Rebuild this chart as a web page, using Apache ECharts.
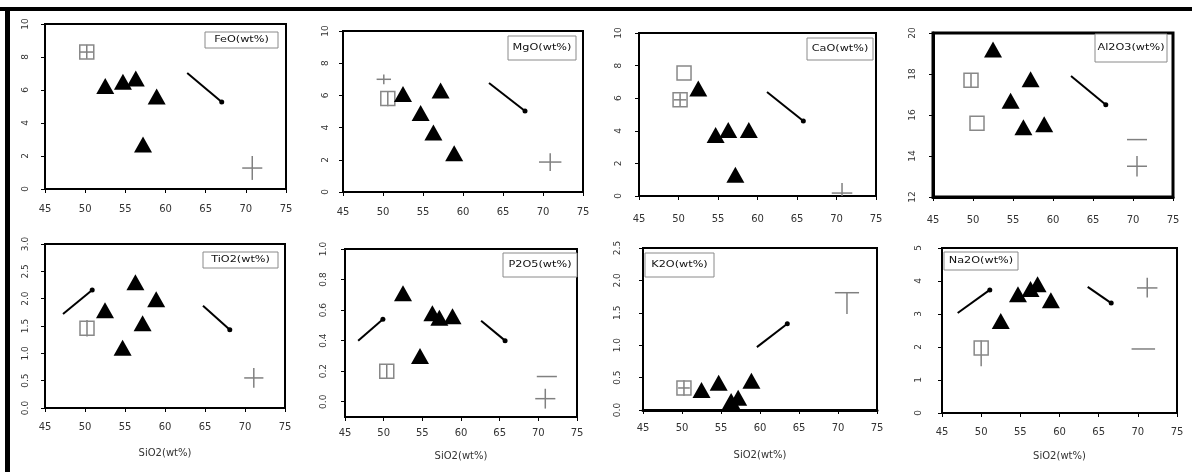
<!DOCTYPE html>
<html><head><meta charset="utf-8">
<script src="https://cdn.jsdelivr.net/npm/echarts@6/dist/echarts.min.js"></script>
<style>html,body{margin:0;padding:0;background:#fff}#c{width:1192px;height:472px}</style>
</head><body><div id="c"></div>
<script>
// ---- data ----
const SIO2 = [52.5, 54.7, 56.3, 57.2, 58.9];
const FEO = [6.24, 6.5, 6.7, 2.7, 5.6];
const MGO = [6.09, 4.9, 3.7, 6.3, 2.4];
const CAO = [6.6, 3.75, 4.05, 1.3, 4.05];
const AL2O3 = [19.2, 16.7, 15.4, 17.75, 15.55];
const TIO2 = [1.79, 1.1, 2.3, 1.55, 1.99];
const P2O5 = [0.71, 0.30, 0.58, 0.55, 0.56];
const K2O = [0.31, 0.42, 0.14, 0.19, 0.45];
const NA2O = [2.79, 3.6, 3.76, 3.9, 3.42];

// open squares (reference compositions) [SiO2, oxide]
const SQ_FEO = [[50.2, 8.3]];
const SQ_MGO = [[50.6, 5.8]];
const SQ_CAO = [[50.7, 7.55], [50.2, 5.9]];
const SQ_AL2O3 = [[49.75, 17.7], [50.5, 15.6]];
const SQ_TIO2 = [[50.25, 1.46]];
const SQ_P2O5 = [[50.4, 0.20]];
const SQ_K2O = [[50.25, 0.34]];
const SQ_NA2O = [[50.0, 1.97]];

// error bars [x, y, xLow, xHigh, yLow, yHigh]
const EB_FEO = [[50.2, 8.3, 49.3, 51.0, 7.9, 8.75], [70.8, 1.27, 69.55, 72.05, 0.55, 2.0]];
const EB_MGO = [[50.1, 7.0, 49.2, 51.0, 6.7, 7.3], [50.6, 5.8, 50.6, 50.6, 5.33, 6.27], [70.9, 1.86, 69.5, 72.3, 1.3, 2.4]];
const EB_CAO = [[50.2, 5.9, 49.4, 51.0, 5.5, 6.3], [70.7, 0.18, 69.4, 72.0, 0.0, 0.8]];
const EB_AL2O3 = [[49.75, 17.7, 49.75, 49.75, 17.35, 18.05], [70.5, 14.8, 69.25, 71.75, 14.8, 14.8], [70.5, 13.5, 69.25, 71.75, 13.0, 14.0]];
const EB_TIO2 = [[50.25, 1.46, 50.25, 50.25, 1.31, 1.61], [71.1, 0.55, 69.9, 72.3, 0.37, 0.73]];
const EB_P2O5 = [[50.4, 0.20, 50.4, 50.4, 0.155, 0.245], [71.1, 0.165, 69.8, 72.4, 0.165, 0.165], [70.9, 0.02, 69.6, 72.2, -0.045, 0.085]];
const EB_K2O = [[50.25, 0.34, 49.5, 51.0, 0.22, 0.46], [71.15, 1.81, 69.6, 72.7, 1.48, 1.81]];
const EB_NA2O = [[50.0, 1.97, 50.0, 50.0, 1.42, 2.2], [71.2, 3.79, 69.9, 72.5, 3.5, 4.1], [70.7, 1.94, 69.2, 72.2, 1.94, 1.94]];

// trend arrows [x1, y1, x2, y2]
const AR_FEO = [[62.7, 7.03, 67.0, 5.27]];
const AR_MGO = [[63.25, 6.77, 67.75, 5.03]];
const AR_CAO = [[61.2, 6.38, 65.8, 4.6]];
const AR_AL2O3 = [[62.25, 17.9, 66.6, 16.5]];
const AR_TIO2 = [[47.25, 1.72, 50.9, 2.16], [64.75, 1.87, 68.1, 1.43]];
const AR_P2O5 = [[46.7, 0.40, 49.9, 0.54], [62.6, 0.53, 65.7, 0.40]];
const AR_K2O = [[59.6, 0.97, 63.5, 1.33]];
const AR_NA2O = [[47.0, 3.03, 51.1, 3.73], [63.6, 3.82, 66.6, 3.33]];

const NAMES = ['FeO(wt%)', 'MgO(wt%)', 'CaO(wt%)', 'Al2O3(wt%)', 'TiO2(wt%)', 'P2O5(wt%)', 'K2O(wt%)', 'Na2O(wt%)'];
const X_TITLE = 'SiO2(wt%)';
const X_TICKS = [45, 50, 55, 60, 65, 70, 75];
const Y_TICKS = [
  [0, 2, 4, 6, 8, 10], [0, 2, 4, 6, 8, 10], [0, 2, 4, 6, 8, 10], [12, 14, 16, 18, 20],
  [0, 0.5, 1.0, 1.5, 2.0, 2.5, 3.0], [0, 0.2, 0.4, 0.6, 0.8, 1.0], [0, 0.5, 1.0, 1.5, 2.0, 2.5], [0, 1, 2, 3, 4, 5]
];
const Y_MIN = [0, 0, 0, 12, 0, -0.1, 0, 0];
const Y_MAX = [10, 10, 10, 20, 3, 1.0, 2.5, 5];
const Y_DEC = [0, 0, 0, 0, 1, 1, 1, 0];

const OX = [FEO, MGO, CAO, AL2O3, TIO2, P2O5, K2O, NA2O];
const SQ = [SQ_FEO, SQ_MGO, SQ_CAO, SQ_AL2O3, SQ_TIO2, SQ_P2O5, SQ_K2O, SQ_NA2O];
const EB = [EB_FEO, EB_MGO, EB_CAO, EB_AL2O3, EB_TIO2, EB_P2O5, EB_K2O, EB_NA2O];
const AR = [AR_FEO, AR_MGO, AR_CAO, AR_AL2O3, AR_TIO2, AR_P2O5, AR_K2O, AR_NA2O];

// ---- layout (styles) ----
const LAYOUT = [
  {left: 45, top: 24, width: 241, height: 165, lw: 2, xlw: 2, xm: 15, ym: 15, box: [205, 32, 73, 16]},
  {left: 343, top: 31, width: 240, height: 161, lw: 2, xlw: 2, xm: 15, ym: 13, box: [508, 36, 68, 24]},
  {left: 639, top: 33, width: 237, height: 163, lw: 2, xlw: 2, xm: 18, ym: 16, box: [807, 38, 66, 22]},
  {left: 933, top: 33, width: 240, height: 164, lw: 3, xlw: 3, xm: 18, ym: 16, box: [1095, 34, 72, 28]},
  {left: 45, top: 244, width: 240, height: 164, lw: 2, xlw: 2, xm: 14, ym: 15, box: [203, 252, 75, 16], nameGap: 40},
  {left: 345, top: 249, width: 232, height: 168, lw: 2, xlw: 2, xm: 11, ym: 17, box: [503, 253, 74, 24], nameGap: 34},
  {left: 643, top: 248, width: 234, height: 162, lw: 2, xlw: 3, xm: 13, ym: 21, box: [645, 253, 69, 24], nameGap: 40},
  {left: 942, top: 248, width: 235, height: 165, lw: 2, xlw: 2, xm: 14, ym: 19, box: [944, 252, 74, 18], nameGap: 38}
];

const FONT = 'DejaVu Sans';
const grids = [], xAxes = [], yAxes = [], series = [], graphics = [];

function renderErr(params, api) {
  const x = api.value(0), y = api.value(1);
  const a = api.coord([api.value(2), y]), b = api.coord([api.value(3), y]);
  const c = api.coord([x, api.value(4)]), d = api.coord([x, api.value(5)]);
  const st = {stroke: '#808080', lineWidth: 1.5};
  const ch = [];
  if (Math.abs(b[0] - a[0]) > 0.5) ch.push({type: 'line', shape: {x1: a[0], y1: a[1], x2: b[0], y2: b[1]}, style: st});
  if (Math.abs(d[1] - c[1]) > 0.5) ch.push({type: 'line', shape: {x1: c[0], y1: c[1], x2: d[0], y2: d[1]}, style: st});
  return {type: 'group', children: ch};
}

LAYOUT.forEach((L, i) => {
  grids.push({left: L.left, top: L.top, width: L.width, height: L.height, show: true,
    borderColor: '#000', borderWidth: L.lw, backgroundColor: '#fff', containLabel: false});
  const xa = {
    gridIndex: i, type: 'value', min: 45, max: 75,
    axisLine: {show: true, onZero: false, lineStyle: {color: '#000', width: L.xlw}},
    axisTick: {show: true, length: 4, customValues: X_TICKS, lineStyle: {color: '#000', width: 1}},
    axisLabel: {customValues: X_TICKS, margin: L.xm, color: '#333', fontFamily: FONT, fontSize: 10},
    splitLine: {show: false}
  };
  if (i >= 4) {
    xa.name = X_TITLE; xa.nameLocation = 'middle'; xa.nameGap = L.nameGap;
    xa.nameTextStyle = {color: '#333', fontFamily: FONT, fontSize: 10};
  }
  xAxes.push(xa);
  yAxes.push({
    gridIndex: i, type: 'value', min: Y_MIN[i], max: Y_MAX[i],
    axisLine: {show: true, onZero: false, lineStyle: {color: '#000', width: L.lw}},
    axisTick: {show: true, length: 4, customValues: Y_TICKS[i], lineStyle: {color: '#000', width: 1}},
    axisLabel: {customValues: Y_TICKS[i], rotate: 90, margin: L.ym, color: '#333', fontFamily: FONT, fontSize: 9,
      formatter: (v) => Number(v).toFixed(Y_DEC[i])},
    splitLine: {show: false}
  });
  // arrows
  AR[i].forEach(a => series.push({
    type: 'line', xAxisIndex: i, yAxisIndex: i, data: [[a[0], a[1]], [a[2], a[3]]],
    symbol: 'circle', showSymbol: true, symbolSize: (v, p) => (p.dataIndex === 1 ? 5 : 0),
    lineStyle: {color: '#000', width: 2}, itemStyle: {color: '#000', opacity: 1}, z: 3, silent: true
  }));
  // error bars
  series.push({type: 'custom', xAxisIndex: i, yAxisIndex: i, data: EB[i], renderItem: renderErr,
    encode: {x: 0, y: 1}, z: 2, silent: true});
  // open squares
  series.push({type: 'scatter', xAxisIndex: i, yAxisIndex: i, data: SQ[i], symbol: 'rect', symbolSize: 14,
    itemStyle: {color: 'rgba(255,255,255,0)', borderColor: '#888', borderWidth: 1.5, opacity: 1}, z: 2, silent: true});
  // samples
  series.push({type: 'scatter', xAxisIndex: i, yAxisIndex: i, data: SIO2.map((x, k) => [x, OX[i][k]]),
    symbol: 'triangle', symbolSize: [18, 16], itemStyle: {color: '#000', opacity: 1}, z: 5, silent: true});
  // label box
  const b = L.box;
  graphics.push({type: 'rect', shape: {x: b[0], y: b[1], width: b[2], height: b[3]},
    style: {fill: '#fff', stroke: '#8a8a8a', lineWidth: 1}, z: 10});
  graphics.push({type: 'text', x: b[0] + b[2] / 2, y: b[1] + b[3] / 2, scaleX: 1.25,
    style: {text: NAMES[i], fill: '#111', font: '9px "' + FONT + '"', align: 'center', verticalAlign: 'middle'}, z: 11});
});

// outer frame (top and left bars)
graphics.push({type: 'rect', shape: {x: 0, y: 7, width: 1192, height: 4}, style: {fill: '#000'}, z: 20});
graphics.push({type: 'rect', shape: {x: 5, y: 7, width: 5, height: 465}, style: {fill: '#000'}, z: 20});

const chart = echarts.init(document.getElementById('c'), null, {renderer: 'canvas'});
chart.setOption({
  animation: false,
  backgroundColor: '#fff',
  grid: grids, xAxis: xAxes, yAxis: yAxes, series: series, graphic: graphics
});
</script></body></html>
